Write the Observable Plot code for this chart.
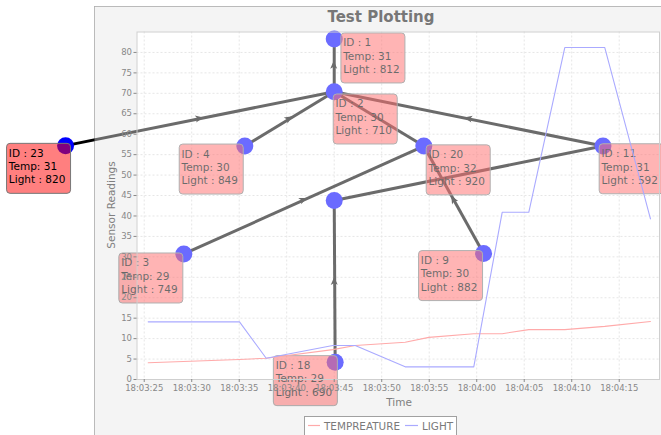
<!DOCTYPE html>
<html>
<head>
<meta charset="utf-8">
<script src="https://cdn.jsdelivr.net/npm/d3@7"></script>
<script src="https://cdn.jsdelivr.net/npm/@observablehq/plot@0.6"></script>
<style>
  html, body { margin: 0; padding: 0; background: #ffffff; }
  #chart { position: relative; width: 661px; height: 435px; overflow: hidden; }
</style>
</head>
<body>
<div id="chart"></div>
<script>
// ---------- data ----------
// sample times, seconds after 18:03:00
const sampleSeconds = [25.42, 35.03, 37.84, 44.85, 47.21, 52.47, 54.96, 59.69, 62.68, 65.48, 69.27, 73.48, 78.29];
const temperatureValues = [4.1, 4.9, 5.2, 7.3, 8.3, 9.1, 10.3, 11.2, 11.2, 12.2, 12.2, 13.0, 14.2];
const lightValues = [14.1, 14.1, 5.2, 8.3, 8.3, 3.1, 3.1, 3.1, 40.9, 40.9, 81.2, 81.2, 39.3];

const xTickSeconds = [25, 30, 35, 40, 45, 50, 55, 60, 65, 70, 75];
const xTickLabels = ["18:03:25", "18:03:30", "18:03:35", "18:03:40", "18:03:45", "18:03:50",
                     "18:03:55", "18:04:00", "18:04:05", "18:04:10", "18:04:15"];
const yTicks = [0, 5, 10, 15, 20, 25, 30, 35, 40, 45, 50, 55, 60, 65, 70, 75, 80];

const seriesNames = ["TEMPREATURE", "LIGHT"];
const chartTitle = "Test Plotting";
const xAxisTitle = "Time";
const yAxisTitle = "Sensor Readings";

// network nodes (placed in chart coordinates: seconds, reading)
const nodeIds      = ["1", "2", "4", "20", "11", "23", "3", "9", "18", ""];
const nodeSeconds  = [45.0, 45.0, 35.59, 54.43, 73.29, 16.72, 29.17, 60.72, 45.1, 45.0];
const nodeReadings = [83.3, 70.4, 57.1, 57.1, 57.1, 57.2, 30.7, 30.8, 4.2, 43.8];
const nodeTemps    = [31, 30, 30, 32, 31, 31, 29, 30, 29, null];
const nodeLights   = [812, 710, 849, 920, 592, 820, 749, 882, 690, null];

// edges: from id, to id, directed (arrow at middle)
const edgeFrom  = ["23", "4", "2", "11", "18", "3", "9", "2", ""];
const edgeTo    = ["2", "2", "1", "2", "", "20", "20", "20", "11"];
const edgeArrow = [true, true, true, true, true, true, true, false, false];

// ---------- layout (label box offset from node centre, px) ----------
const labelOffsets = {
  "1": [6.7, -6], "2": [-1, 2.3], "4": [-65.6, -2], "20": [2.4, -1.2], "11": [-3.8, -2.3],
  "23": [-59, -2.3], "3": [-65, -1], "9": [-65, -3], "18": [-61.8, -6.7]
};
const labelW = 64, labelH = 50;
const overlayAlpha = 0.42;
const panelFill = "#f4f4f4";

// ---------- tables built from arrays ----------
const lines = [];
sampleSeconds.forEach((t, i) => {
  lines.push({series: seriesNames[0], t, v: temperatureValues[i]});
});
sampleSeconds.forEach((t, i) => {
  lines.push({series: seriesNames[1], t, v: lightValues[i]});
});
const nodes = nodeIds.map((id, i) => ({
  id, t: nodeSeconds[i], v: nodeReadings[i], temp: nodeTemps[i], light: nodeLights[i]
}));
const nodeById = new Map(nodes.map(n => [n.id, n]));
const edges = edgeFrom.map((f, i) => {
  const a = nodeById.get(f), b = nodeById.get(edgeTo[i]);
  return {x1: a.t, y1: a.v, x2: b.t, y2: b.v, arrow: edgeArrow[i]};
});

// ---------- custom render helpers ----------
function panelBackground(index, scales, values, dims) {
  const g = d3.create("svg:g");
  g.append("rect").attr("x", 94.5).attr("y", 6.5).attr("width", 700).attr("height", 600)
    .attr("fill", panelFill).attr("stroke", "#ababab");
  return g.node();
}

function arrowHeads(index, scales) {
  const g = d3.create("svg:g").attr("fill", "#000");
  edges.filter(e => e.arrow).forEach(e => {
    const ax = scales.x(e.x1), ay = scales.y(e.y1), bx = scales.x(e.x2), by = scales.y(e.y2);
    const mx = (ax + bx) / 2, my = (ay + by) / 2;
    const len = Math.hypot(bx - ax, by - ay);
    const ux = (bx - ax) / len, uy = (by - ay) / len;
    const px = -uy, py = ux;
    const tip = [mx + ux * 4, my + uy * 4];
    const b1 = [mx - ux * 4 + px * 3.5, my - uy * 4 + py * 3.5];
    const b2 = [mx - ux * 4 - px * 3.5, my - uy * 4 - py * 3.5];
    g.append("path").attr("d", `M${tip}L${b1}L${mx - ux * 2},${my - uy * 2}L${b2}Z`);
  });
  return g.node();
}

function nodeLabels(index, scales) {
  const g = d3.create("svg:g").attr("font-family", "DejaVu Sans").attr("font-size", 10.5)
    .attr("text-anchor", "start");
  nodes.forEach(n => {
    if (!n.id) return;
    const cx = scales.x(n.t), cy = scales.y(n.v);
    const off = labelOffsets[n.id];
    const x0 = cx + off[0], y0 = cy + off[1];
    g.append("rect").attr("x", x0 + 0.5).attr("y", y0 + 0.5).attr("width", labelW).attr("height", labelH)
      .attr("rx", 3.5).attr("fill", "rgba(255,0,0,0.5)").attr("stroke", "#777").attr("stroke-width", 1);
    const textLines = [`ID : ${n.id}`, `Temp: ${n.temp}`, `Light : ${n.light}`];
    textLines.forEach((s, k) => {
      g.append("text").attr("x", x0 + 2.8).attr("y", y0 + 14 + 13.3 * k)
        .attr("text-anchor", "start").attr("fill", "#000").text(s);
    });
  });
  return g.node();
}

function panelOverlay(index, scales, values, dims) {
  const {width, height, marginLeft, marginRight, marginTop, marginBottom} = dims;
  const g = d3.create("svg:g");
  const L = marginLeft, R = width - marginRight, T = marginTop, B = height - marginBottom;
  g.append("path")
    .attr("d", `M94.5,6.5H800V700H94.5Z M${L},${T}V${B}H${R}V${T}Z`)
    .attr("fill-rule", "evenodd").attr("fill", panelFill).attr("fill-opacity", overlayAlpha);
  g.append("rect").attr("x", L).attr("y", T).attr("width", R - L).attr("height", B - T)
    .attr("fill", "#fff").attr("fill-opacity", overlayAlpha);
  return g.node();
}

function decorations(index, scales, values, dims) {
  const g = d3.create("svg:g").attr("font-family", "DejaVu Sans");
  // title
  g.append("text").attr("x", 381).attr("y", 21.7).attr("text-anchor", "middle")
    .attr("font-size", 15).attr("font-weight", "bold").attr("fill", "#777").text(chartTitle);
  // axis titles
  g.append("text").attr("x", 399).attr("y", 406).attr("text-anchor", "middle")
    .attr("font-size", 10.5).attr("fill", "#808080").text(xAxisTitle);
  g.append("text").attr("transform", "translate(115,205) rotate(-90)").attr("text-anchor", "middle")
    .attr("font-size", 10.5).attr("fill", "#808080").text(yAxisTitle);
  // legend
  g.append("rect").attr("x", 304.5).attr("y", 416.5).attr("width", 152).attr("height", 30)
    .attr("fill", "#fff").attr("stroke", "#a0a0a0");
  g.append("line").attr("x1", 308).attr("x2", 320).attr("y1", 425.5).attr("y2", 425.5)
    .attr("stroke", "#ffaaaa").attr("stroke-width", 1.2);
  g.append("text").attr("x", 324).attr("y", 429.5).attr("text-anchor", "start")
    .attr("font-size", 10.4).attr("fill", "#7a7a7a").text(seriesNames[0]);
  g.append("line").attr("x1", 405).attr("x2", 418).attr("y1", 425.5).attr("y2", 425.5)
    .attr("stroke", "#aaaaff").attr("stroke-width", 1.2);
  g.append("text").attr("x", 422).attr("y", 429.5).attr("text-anchor", "start")
    .attr("font-size", 10.4).attr("fill", "#7a7a7a").text(seriesNames[1]);
  return g.node();
}

// ---------- plot ----------
const chart = Plot.plot({
  width: 661,
  height: 435,
  marginLeft: 136.5,
  marginRight: 2,
  marginTop: 31.5,
  marginBottom: 56,
  x: {domain: [24.24, 79.24]},
  y: {domain: [0, 85]},
  style: {background: "transparent", fontFamily: "DejaVu Sans", color: "#888", overflow: "visible"},
  marks: [
    panelBackground,
    Plot.frame({fill: "#fff", stroke: "none"}),
    // grid
    Plot.ruleX(xTickSeconds, {stroke: "#d4d4d4", strokeDasharray: "2,2", strokeWidth: 1}),
    Plot.ruleY(yTicks.filter(d => d > 0), {stroke: "#d4d4d4", strokeDasharray: "2,2", strokeWidth: 1}),
    // network graph (drawn beneath the semi-transparent chart panel)
    Plot.link(edges, {x1: "x1", y1: "y1", x2: "x2", y2: "y2", stroke: "#000", strokeWidth: 3}),
    arrowHeads,
    Plot.dot(nodes, {x: "t", y: "v", r: 8.5, fill: "#0000ff", stroke: "none"}),
    nodeLabels,
    panelOverlay,
    Plot.frame({stroke: "#cfcfcf"}),
    // series
    Plot.line(lines, {x: "t", y: "v", z: "series",
      stroke: d => d.series === seriesNames[0] ? "#ffaaaa" : "#aaaaff", strokeWidth: 1.1}),
    // axes
    Plot.axisY({ticks: yTicks, tickSize: 3, tickPadding: 2, fontSize: 8.5, label: null, color: "#888"}),
    Plot.axisX({ticks: xTickSeconds, tickSize: 3, tickPadding: 2, fontSize: 8.5, label: null, color: "#888",
      tickFormat: d => xTickLabels[xTickSeconds.indexOf(d)]}),
    decorations
  ]
});
document.getElementById("chart").appendChild(chart);
</script>
</body>
</html>
